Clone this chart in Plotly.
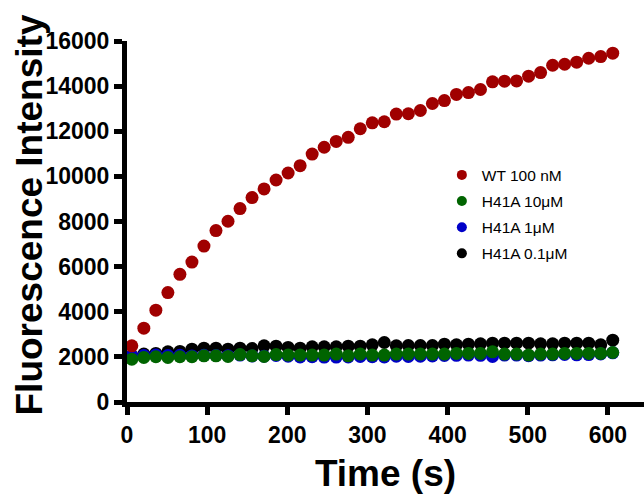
import plotly.graph_objects as go

time_s = [6 + 15 * k for k in range(41)]

wt_100nM = [2490, 3270, 4070, 4850, 5660, 6200, 6910, 7600, 8010, 8575,
            9060, 9445, 9840, 10150, 10475, 10990, 11290, 11550, 11730, 12110,
            12375, 12420, 12760, 12775, 12920, 13230, 13360, 13630, 13715, 13850,
            14190, 14220, 14230, 14440, 14600, 14925, 14970, 15060, 15235, 15310,
            15460]

h41a_10uM = [1900, 1975, 2005, 1975, 2005, 2005, 2047, 2047, 2018, 2100,
             2047, 2018, 2100, 2080, 2078, 2078, 2078, 2122, 2047, 2122,
             2078, 2078, 2122, 2122, 2122, 2122, 2122, 2151, 2151, 2151,
             2225, 2122, 2122, 2078, 2122, 2122, 2151, 2151, 2151, 2151,
             2195]

h41a_1uM = [2040, 2060, 2080, 2060, 2070, 2040, 2070, 2060, 2050, 2080,
            2040, 2030, 2060, 2030, 2000, 2010, 1990, 1990, 2000, 2020,
            2010, 2000, 2030, 2020, 2030, 2040, 2060, 2070, 2080, 2070,
            2020, 2080, 2080, 2050, 2080, 2090, 2110, 2090, 2100, 2130,
            2180]

h41a_01uM = [2047, 2122, 2152, 2225, 2240, 2343, 2387, 2387, 2343, 2387,
             2370, 2490, 2475, 2417, 2387, 2446, 2446, 2446, 2475, 2475,
             2534, 2637, 2490, 2505, 2505, 2505, 2564, 2534, 2564, 2578,
             2608, 2608, 2608, 2608, 2578, 2578, 2608, 2608, 2608, 2534,
             2740]

x_ticks = [0, 100, 200, 300, 400, 500, 600]
y_ticks = [0, 2000, 4000, 6000, 8000, 10000, 12000, 14000, 16000]

# drawing order (back to front)
series = [
    ("H41A 0.1\u03bcM", h41a_01uM, "#000000"),
    ("H41A 1\u03bcM", h41a_1uM, "#0000C8"),
    ("H41A 10\u03bcM", h41a_10uM, "#006400"),
    ("WT 100 nM", wt_100nM, "#A00000"),
]

fig = go.Figure()
for name, vals, col in series:
    fig.add_trace(go.Scatter(x=time_s, y=vals, mode="markers", name=name,
                             showlegend=False, cliponaxis=False,
                             marker=dict(size=13, color=col, line=dict(width=0))))
# legend entries, top to bottom
for i, (name, vals, col) in enumerate(reversed(series)):
    fig.add_trace(go.Scatter(x=[None], y=[None], mode="markers", name=name,
                             showlegend=True, legendgroup="g%d" % i,
                             marker=dict(size=10, color=col, line=dict(width=0))))

font = "Liberation Sans, Arial, sans-serif"
fig.update_layout(
    width=644, height=494,
    margin=dict(l=127, r=0, t=41, b=92),
    paper_bgcolor="white", plot_bgcolor="white",
    font=dict(family=font, color="black"),
    legend=dict(x=0.609, y=0.675, xanchor="left", yanchor="top",
                traceorder="grouped", tracegroupgap=3,
                font=dict(size=15.5, family=font),
                bgcolor="rgba(0,0,0,0)"),
    xaxis=dict(range=[0, 645], tickvals=x_ticks, ticktext=[str(v) for v in x_ticks],
               automargin=False,
               showgrid=False, zeroline=False, showline=True, linewidth=5,
               linecolor="black", ticks="outside", ticklen=8, tickwidth=5,
               tickcolor="black",
               tickfont=dict(size=23, family=font, weight="bold"),
               title=dict(text="<b>Time (s)</b>", font=dict(size=37, family=font),
                          standoff=22)),
    yaxis=dict(range=[0, 16000], tickvals=y_ticks, ticktext=[str(v) for v in y_ticks],
               automargin=False,
               showgrid=False, zeroline=False, showline=True, linewidth=5,
               linecolor="black", ticks="outside", ticklen=8, tickwidth=5,
               tickcolor="black",
               tickfont=dict(size=23, family=font, weight="bold")),
    annotations=[dict(text="<b>Fluorescence Intensity</b>", textangle=-90,
                      xref="paper", yref="paper",
                      x=(29.5 - 127) / 517, y=(402 - 215) / 361,
                      xanchor="center", yanchor="middle", showarrow=False,
                      font=dict(size=37, family=font, color="black"))],
)

fig.write_html("out.html", config={"displayModeBar": False},
               post_script="document.body.style.margin='0';")
